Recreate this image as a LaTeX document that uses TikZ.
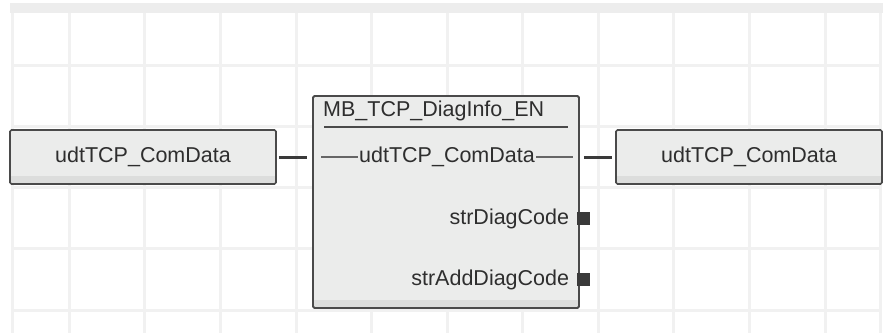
\documentclass[tikz,border=0pt]{standalone}
\usepackage{fontspec}
\setmainfont{Liberation Sans}
\usetikzlibrary{positioning}

\definecolor{gridln}{HTML}{F1F1F1}
\definecolor{bandfill}{HTML}{EDEDED}
\definecolor{boxfill}{HTML}{EBECEB}
\definecolor{boxfoot}{HTML}{DCDDDC}
\definecolor{boxedge}{HTML}{4A4A4A}
\definecolor{wirecol}{HTML}{3A3A3A}
\definecolor{txt}{HTML}{2E2E2E}

\newcommand{\fbdfont}{\fontsize{21.5}{25}\selectfont}

\tikzset{
  gridline/.style={draw=gridln, line width=3pt},
  footstrip/.style={path picture={
      \fill[boxfoot] (path picture bounding box.south west)
        rectangle ([yshift=8pt]path picture bounding box.south east);}},
  varbox/.style={draw=boxedge, line width=1.6pt, fill=boxfill, rounded corners=1.5pt,
    minimum width=266pt, minimum height=54pt, inner sep=0pt, footstrip,
    font=\fbdfont, text=txt},
  fbbox/.style={draw=boxedge, line width=1.8pt, fill=boxfill, rounded corners=1.5pt,
    minimum width=266pt, minimum height=212pt, inner sep=0pt, footstrip},
  fbtext/.style={font=\fbdfont, text=txt, inner sep=1pt},
  wire/.style={draw=wirecol, line width=3pt},
  pinline/.style={draw=gray!80!black, line width=1.8pt},
  outpin/.style={fill=wirecol, minimum size=13pt, inner sep=0pt},
}

\begin{document}
\begin{tikzpicture}[x=1pt,y=-1pt]
    \useasboundingbox (0,0) rectangle (883,333);
    % sheet grid
    \fill[bandfill] (10,3) rectangle (883,13);
    \foreach \x in {12,69,144.5,220,296,371,447,522,598,673,749,825,880}
        \draw[gridline] (\x,13) -- (\x,333);
    \foreach \y in {65,126,187,248,310}
        \draw[gridline] (12,\y) -- (880,\y);

    % variables and the function block
    \node[varbox] (inL) at (143,157) {udtTCP\_ComData};
    \node[fbbox] (fb) at (446,202) {};
    \node[varbox] (inR) at (749,157) {udtTCP\_ComData};

    % block name and rule
    \node[fbtext, anchor=west] (fbname) at (322,111) {MB\_TCP\_DiagInfo\_EN};
    \coordinate (ruleL) at (324,127);
    \coordinate (ruleR) at (568,127);
    \draw[draw=boxedge, line width=2.6pt] (ruleL) -- (ruleR);

    % in/out pin
    \node[fbtext] (pinIO) at (447,157) {udtTCP\_ComData};
    \coordinate (pinL) at (321,157);
    \coordinate (pinR) at (573,157);
    \draw[pinline] (pinL) -- (pinIO.west);
    \draw[pinline] (pinIO.east) -- (pinR);

    % output pins
    \node[outpin] (sq1) at (583,218.5) {};
    \node[outpin] (sq2) at (583,279.5) {};
    \node[fbtext, left=6pt of sq1] (outA) {strDiagCode};
    \node[fbtext, left=6pt of sq2] (outB) {strAddDiagCode};

    % wires
    \draw[wire, shorten <=2pt, shorten >=5pt] (inL.east) -- (inL.east -| fb.west);
    \draw[wire, shorten <=4pt, shorten >=3pt] (fb.east |- inR.west) -- (inR.west);
\end{tikzpicture}
\end{document}
